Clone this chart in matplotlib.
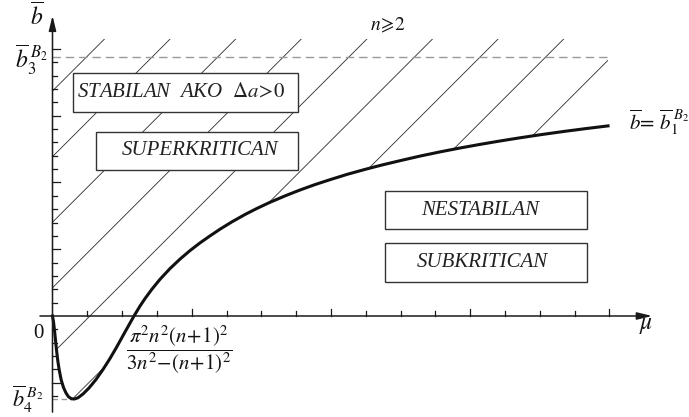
import matplotlib
matplotlib.use("Agg")
import matplotlib.pyplot as plt
from matplotlib.patches import Polygon, Rectangle

plt.rcParams['mathtext.fontset'] = 'stix'
plt.rcParams['font.family'] = ['Liberation Serif', 'DejaVu Serif']

# stability boundary b1(mu), n >= 2
mu = [0.0, 0.029, 0.057, 0.086, 0.115, 0.149, 0.193, 0.250, 0.316, 0.388,
      0.460, 0.546, 0.632, 0.733, 0.876, 1.049, 1.250, 1.451, 1.652, 1.853,
      2.083, 2.342, 2.514, 2.658, 2.859, 3.089, 3.376, 3.664, 3.951, 4.239,
      4.526, 4.813, 5.158, 5.532, 5.876, 6.250, 6.681, 7.112, 7.543, 7.974,
      8.463, 8.980, 9.468, 9.986, 10.560, 11.135, 11.710, 12.284, 12.859,
      13.434, 14.066, 14.727, 15.302, 15.963]
b1 = [0.0, -0.449, -1.049, -1.798, -2.547, -3.296, -4.045, -4.794, -5.356,
      -5.768, -6.052, -6.202, -6.217, -6.127, -5.843, -5.393, -4.757, -4.007,
      -3.184, -2.285, -1.199, 0.0, 0.742, 1.303, 2.015, 2.749, 3.551, 4.262,
      4.899, 5.476, 6.000, 6.502, 7.056, 7.603, 8.060, 8.517, 8.996, 9.438,
      9.843, 10.210, 10.607, 10.981, 11.311, 11.633, 11.978, 12.292, 12.584,
      12.854, 13.109, 13.348, 13.596, 13.835, 14.030, 14.240]

b3 = 19.4          # upper limit b3
b4 = -6.2          # minimum b4
mu_end = 15.963
x_ticks = list(range(1, 17))
y_ticks = [k for k in range(-6, 21) if k != 0]

fig = plt.figure(figsize=(6.89, 4.17), dpi=100)
ax = fig.add_axes([0, 0, 1, 1])
ax.set_xlim(-1.5086, 18.290)
ax.set_ylim(-7.566, 23.670)
ax.axis('off')

# pixel -> data scale
sx, sy = 34.8, 13.35
dark = '#1a1a1a'

# hatched stable region above the curve
b_top = 20.75
region = [(0, b_top), (mu_end, b_top)] + list(zip(mu[::-1], b1[::-1]))
clip = Polygon(region, closed=True, facecolor='none', edgecolor='none',
               transform=ax.transData)
ax.add_patch(clip)
slope = sx / sy
b0_first = (316 - 91) / sy
step = 65.6 / sy
for k in range(10):
    b0 = b0_first - k * step
    ln, = ax.plot([-1, 18], [b0 - slope, b0 + 18 * slope], color='#2a2a2a',
                  lw=0.6, zorder=2)
    ln.set_clip_path(clip)

# dashed reference levels
ax.plot([0, 16.02], [b3, b3], color='#999999', lw=1.0, dashes=(6, 3.6),
        zorder=2)
ax.plot([0, 0.55], [b4, b4], color='#999999', lw=1.0, dashes=(4, 2.5),
        zorder=2)

# boundary curve
ax.plot(mu, b1, color='#111111', lw=2.2, zorder=4, solid_joinstyle='round')

# axes with arrows
ax.annotate('', xy=(17.23, 0), xytext=(-0.36, 0),
            arrowprops=dict(arrowstyle='-|>,head_length=0.9,head_width=0.22',
                            color=dark, lw=1.1, shrinkA=0, shrinkB=0),
            zorder=5)
ax.annotate('', xy=(0, 22.5), xytext=(0, -7.2),
            arrowprops=dict(arrowstyle='-|>,head_length=0.9,head_width=0.22',
                            color=dark, lw=1.1, shrinkA=0, shrinkB=0),
            zorder=5)

# ticks
for k in x_ticks:
    h = (7 if k % 4 == 0 else 4.5) / sy
    ax.plot([k, k], [0, h], color=dark, lw=0.9, zorder=5)
for k in y_ticks:
    w = (7 if k % 5 == 0 else 4.5) / sx
    ax.plot([0, w], [k, k], color=dark, lw=0.9, zorder=5)

# labelled boxes
def box(x0, y0, x1, y1, text, tx):
    d0 = ((x0 - 52.5) / sx, (316 - y1) / sy)
    rect = Rectangle(d0, (x1 - x0) / sx, (y1 - y0) / sy, facecolor='white',
                     edgecolor='#333333', lw=1.0, zorder=6)
    ax.add_patch(rect)
    ax.text((tx - 52.5) / sx, (316 - (y0 + y1) / 2) / sy, text,
            ha='center', va='center', fontsize=15, style='italic',
            color='#222222', zorder=7)

box(73.3, 73.3, 298.3, 112.3, r'STABILAN  AKO  $\Delta a\!>\!0$', 181)
box(96, 131.7, 298.3, 170, 'SUPERKRITICAN', 200)
box(385, 191, 586.7, 229.3, 'NESTABILAN', 480)
box(385, 243.3, 586.7, 281.7, 'SUBKRITICAN', 482)

def P(x, y):
    return ((x - 52.5) / sx, (316 - y) / sy)

# axis and level labels
ax.text(*P(37, 17), r'$\overline{b}$', fontsize=17, ha='center', va='center',
        color='#111111')
ax.text(*P(48, 60), r'$\overline{b}_{3}^{\;B_2}$', fontsize=17, ha='right',
        va='center', color='#111111')
ax.text(*P(43, 399), r'$\overline{b}_{4}^{\;B_2}$', fontsize=16, ha='right',
        va='center', color='#111111')
ax.text(*P(38, 334), '0', fontsize=15, ha='center', va='center',
        color='#111111')
ax.text(*P(646, 326), r'$\mu$', fontsize=17, ha='center', va='center',
        color='#111111')
ax.text(*P(388, 25), r'$n\!\geqslant\!2$', fontsize=14, ha='center',
        va='center', color='#111111')
ax.text(*P(629, 122), r'$\overline{b}\!=\,\overline{b}_{1}^{\;B_2}$',
        fontsize=15, ha='left', va='center', color='#111111')
ax.text(*P(179, 350), r'$\dfrac{\pi^2 n^2 (n\!+\!1)^2}{3n^2\!-\!(n\!+\!1)^2}$',
        fontsize=15, ha='center', va='center', color='#111111')

fig.savefig('out.png', dpi=100)
